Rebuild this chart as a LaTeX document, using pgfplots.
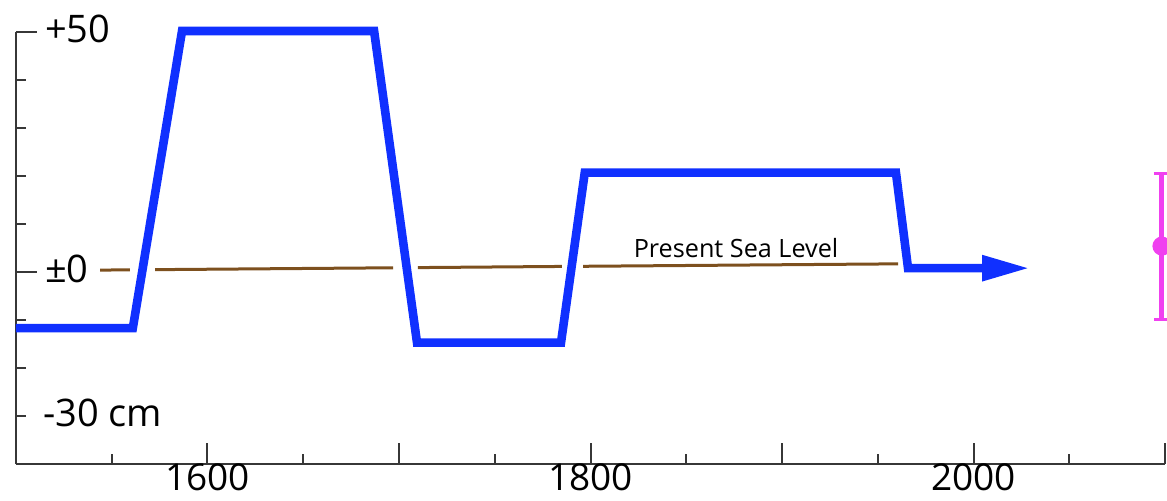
\documentclass[border=0pt]{standalone}
\usepackage{fontspec}
\setmainfont{Open Sans}
\usepackage{pgfplots}
\pgfplotsset{compat=1.18}
\usetikzlibrary{arrows.meta}

\definecolor{sealine}{RGB}{16,48,255}
\definecolor{presentlvl}{RGB}{125,80,30}
\definecolor{recent}{RGB}{240,64,240}
\definecolor{axisgray}{RGB}{55,55,55}

\begin{document}
\begin{tikzpicture}
\begin{axis}[
    scale only axis,
    width=574.5pt, height=216pt,
    xmin=1500, xmax=2100,
    ymin=-40, ymax=50,
    clip=false,
    axis lines=left,
    axis line style={-, line width=1pt, axisgray},
    tick style={line width=1pt, axisgray},
    tick align=inside,
    major tick length=10.75pt,
    minor tick length=5.25pt,
    xtick={1600,1700,1800,1900,2000,2100},
    xticklabels={1600,,1800,,2000,},
    minor xtick={1550,1650,1750,1850,1950,2050},
    ytick={0,50},
    yticklabels={±0,+50},
    minor ytick={-20,-10,10,20,30,40},
    extra y ticks={-30},
    extra y tick labels={-30 cm},
    extra y tick style={major tick length=5.25pt,
        yticklabel style={xshift=-1pt}},
    xticklabel style={font=\fontsize{18.5}{20}\selectfont, yshift=3.5pt},
    yticklabel style={font=\fontsize{19}{21}\selectfont, anchor=west,
        xshift=11pt, yshift=1.5pt},
]
% present sea level, broken where the curve crosses it
\addplot[presentlvl, line width=1.5pt] coordinates {(1543.9,0.40) (1559.5,0.45)};
\addplot[presentlvl, line width=1.5pt] coordinates {(1572.6,0.49) (1696.9,0.88)};
\addplot[presentlvl, line width=1.5pt] coordinates {(1709.9,0.92) (1785.1,1.16)};
\addplot[presentlvl, line width=1.5pt] coordinates {(1796.1,1.19) (1960.6,1.70)};
\node[font=\fontsize{12.6}{14}\selectfont] at (axis cs:1876,4.9) {Present Sea Level};

% sea level curve
\addplot[sealine, line width=4.3pt, line join=miter,
    -{Triangle[length=24pt,width=12pt]}] coordinates {
    (1500,-11.7)
    (1561,-11.7)
    (1586.7,50.2)
    (1687,50.2)
    (1709.4,-14.7)
    (1784.6,-14.7)
    (1797,20.7)
    (1959.5,20.7)
    (1965.8,0.8)
    (2029.5,0.8)
};

% recent measurement with error bar
\addplot[recent, mark=*, mark size=3.5pt, line width=2.5pt,
    error bars/.cd, y dir=both, y explicit,
    error bar style={line width=2.5pt, recent},
    error mark options={rotate=90, mark size=4pt, line width=1.5pt, recent}]
    coordinates {(2098.4,5.4) +- (0,15.2)};

\coordinate (bl) at (axis cs:1491.65,-47.7);
\coordinate (tr) at (axis cs:2101.04,56.67);
\end{axis}
\pgfresetboundingbox
\useasboundingbox (bl) rectangle (tr);
\end{tikzpicture}
\end{document}
